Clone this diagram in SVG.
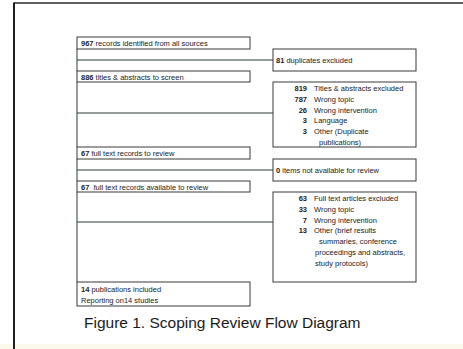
<svg xmlns="http://www.w3.org/2000/svg" width="463" height="349" viewBox="0 0 463 349">
<style>
.box{fill:#fff;stroke:#3a3a3a;stroke-width:1}
.con{stroke:#2e3b3b;stroke-width:1;fill:none}
text{font-family:"Liberation Sans",Arial,sans-serif;font-size:7.5px;fill:#222}
.b{font-weight:bold}
.n{font-weight:bold;text-anchor:end}
.cap{font-size:15.5px;fill:#1a1a1a}
</style>
<rect x="0" y="0" width="463" height="349" fill="#fff"/>
<rect x="0" y="344" width="463" height="5" fill="#fbf8ec"/>
<line x1="14" y1="3" x2="463" y2="3" stroke="#2a2a2a" stroke-width="1.5"/>
<line x1="14" y1="2.5" x2="14" y2="349" stroke="#1f1f1f" stroke-width="2"/>
<g id="connectors">
<line class="con" x1="77" y1="49" x2="77" y2="71"/>
<line class="con" x1="77" y1="82" x2="77" y2="147"/>
<line class="con" x1="77" y1="159" x2="77" y2="181"/>
<line class="con" x1="77" y1="192" x2="77" y2="282"/>
<line class="con" x1="77" y1="60" x2="273" y2="60"/>
<line class="con" x1="77" y1="113" x2="273" y2="113"/>
<line class="con" x1="77" y1="170" x2="273" y2="170"/>
<line class="con" x1="77" y1="222" x2="273" y2="222"/>
</g>
<g id="records">
<rect class="box" x="77" y="37" width="173" height="12"/>
<text x="81" y="46"><tspan class="b">967</tspan> records identified from all sources</text>
</g>
<g id="duplicates">
<rect class="box" x="273" y="49" width="143" height="22"/>
<text x="276" y="62.5"><tspan class="b">81</tspan> duplicates excluded</text>
</g>
<g id="screen">
<rect class="box" x="77" y="71" width="173" height="11"/>
<text x="81" y="79.5"><tspan class="b">886</tspan> titles &amp; abstracts to screen</text>
</g>
<g id="ta-excluded">
<rect class="box" x="273" y="82" width="143" height="65"/>
<text class="n" x="307" y="90.7">819</text><text x="314" y="90.7">Titles &amp; abstracts excluded</text>
<text class="n" x="307" y="101.6">787</text><text x="314" y="101.6">Wrong topic</text>
<text class="n" x="307" y="112.5">26</text><text x="314" y="112.5">Wrong intervention</text>
<text class="n" x="307" y="123.4">3</text><text x="314" y="123.4">Language</text>
<text class="n" x="307" y="134.2">3</text><text x="314" y="134.2">Other (Duplicate</text>
<text x="319" y="145">publications)</text>
</g>
<g id="fulltext">
<rect class="box" x="77" y="147" width="173" height="12"/>
<text x="81" y="155.7"><tspan class="b">67</tspan> full text records to review</text>
</g>
<g id="not-available">
<rect class="box" x="273" y="159" width="143" height="22"/>
<text x="276" y="172.7"><tspan class="b">0</tspan> items not available for review</text>
</g>
<g id="available">
<rect class="box" x="77" y="181" width="173" height="11"/>
<text x="81" y="189.7" xml:space="preserve"><tspan class="b">67</tspan>  full text records available to review</text>
</g>
<g id="ft-excluded">
<rect class="box" x="273" y="192" width="143" height="90"/>
<text class="n" x="307" y="200.7">63</text><text x="314" y="200.7">Full text articles excluded</text>
<text class="n" x="307" y="211.6">33</text><text x="314" y="211.6">Wrong topic</text>
<text class="n" x="307" y="222.5">7</text><text x="314" y="222.5">Wrong intervention</text>
<text class="n" x="307" y="233.4">13</text><text x="314" y="233.4">Other (brief results</text>
<text x="319" y="244.3">summaries, conference</text>
<text x="315" y="255.2">proceedings and abstracts,</text>
<text x="315" y="266">study protocols)</text>
</g>
<g id="included">
<rect class="box" x="77" y="282" width="173" height="24"/>
<text x="81" y="291.7"><tspan class="b">14</tspan> publications included</text>
<text x="81" y="302.7">Reporting on14 studies</text>
</g>
<text class="cap" x="84" y="328">Figure 1. Scoping Review Flow Diagram</text>
</svg>
